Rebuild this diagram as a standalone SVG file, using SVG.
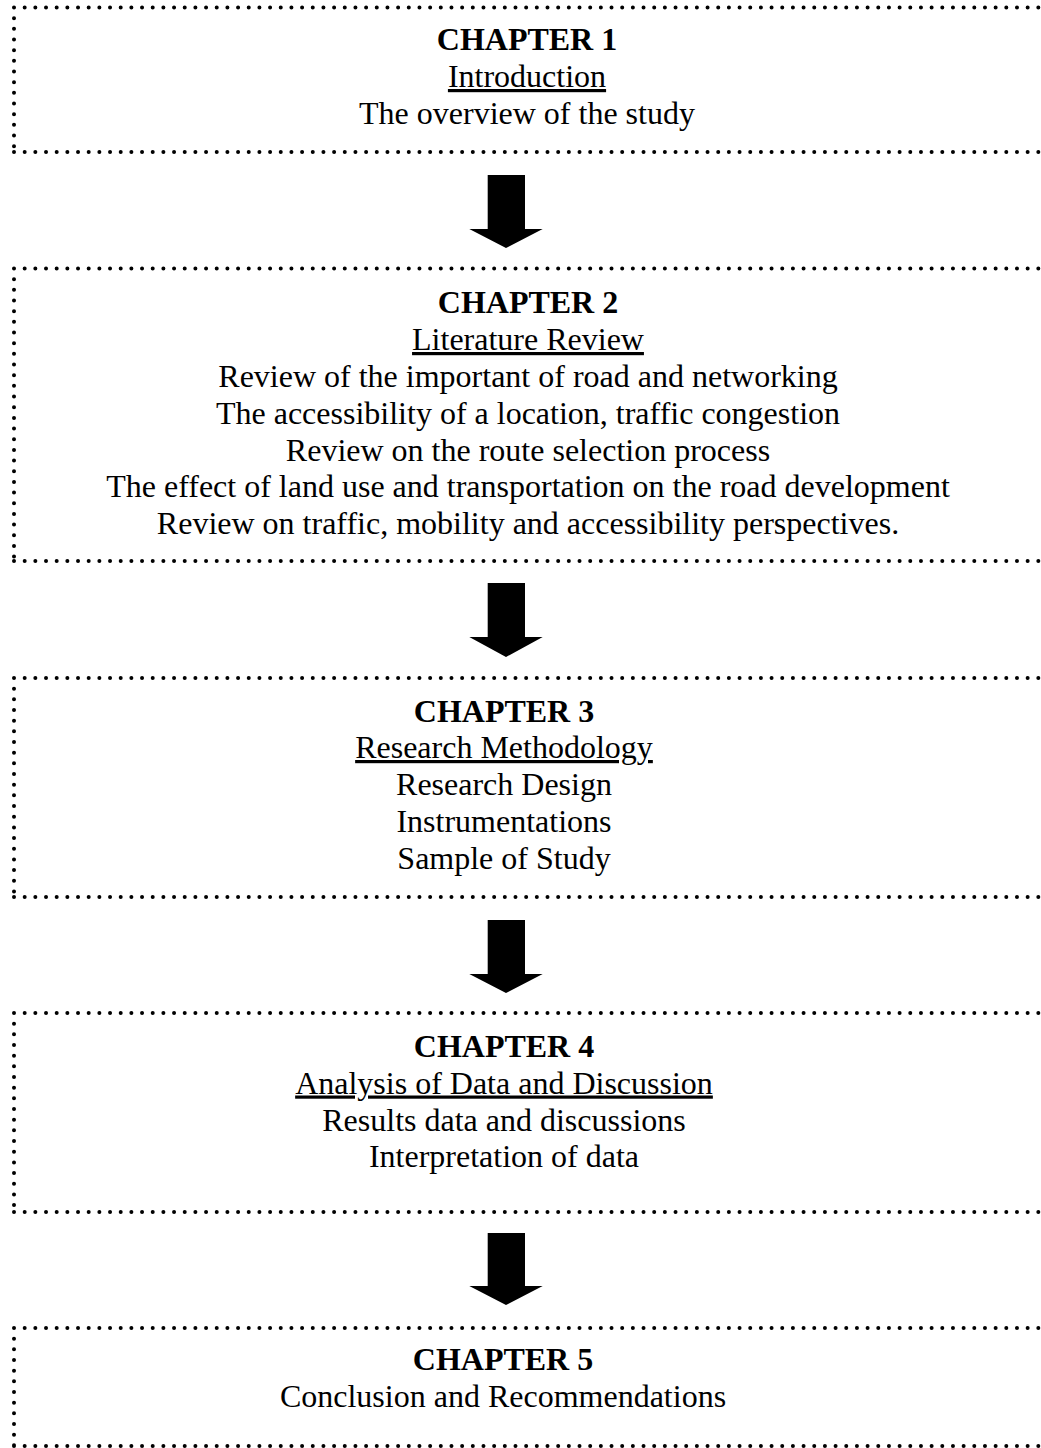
<svg xmlns="http://www.w3.org/2000/svg" width="1041" height="1448" viewBox="0 0 1041 1448">
<style>
.b{fill:none;stroke:#000;stroke-width:4;stroke-linecap:round;stroke-dasharray:0 10.67}
.t{font-family:"Liberation Serif","Times New Roman",serif;font-size:32px;fill:#000;text-anchor:middle}
.h{font-weight:bold}
.u{text-decoration:underline}
.a{fill:#000}
</style>
<rect width="1041" height="1448" fill="#fff"/>
<g id="chapter1">
<path class="b" d="M14,7.5 H1050 M14,7.5 V152 M14,152 H1050"/>
<text class="t h" x="527" y="50">CHAPTER 1</text>
<text class="t u" x="527" y="87">Introduction</text>
<text class="t" x="527" y="124">The overview of the study</text>
</g>
<g id="chapter2">
<path class="b" d="M14,268.5 H1050 M14,268.5 V561 M14,561 H1050"/>
<text class="t h" x="528" y="313">CHAPTER 2</text>
<text class="t u" x="528" y="350">Literature Review</text>
<text class="t" x="528" y="387">Review of the important of road and networking</text>
<text class="t" x="528" y="424">The accessibility of a location, traffic congestion</text>
<text class="t" x="528" y="460.5">Review on the route selection process</text>
<text class="t" x="528" y="497">The effect of land use and transportation on the road development</text>
<text class="t" x="528" y="534">Review on traffic, mobility and accessibility perspectives.</text>
</g>
<g id="chapter3">
<path class="b" d="M14,678 H1050 M14,678 V897 M14,897 H1050"/>
<text class="t h" x="504" y="721.5">CHAPTER 3</text>
<text class="t u" x="504" y="758">Research Methodology</text>
<text class="t" x="504" y="795">Research Design</text>
<text class="t" x="504" y="832">Instrumentations</text>
<text class="t" x="504" y="868.5">Sample of Study</text>
</g>
<g id="chapter4">
<path class="b" d="M14,1013 H1050 M14,1013 V1212 M14,1212 H1050"/>
<text class="t h" x="504" y="1057">CHAPTER 4</text>
<text class="t u" x="504" y="1093.5">Analysis of Data and Discussion</text>
<text class="t" x="504" y="1130.5">Results data and discussions</text>
<text class="t" x="504" y="1167">Interpretation of data</text>
</g>
<g id="chapter5">
<path class="b" d="M14,1328 H1050 M14,1328 V1446 M14,1446 H1050"/>
<text class="t h" x="503" y="1370">CHAPTER 5</text>
<text class="t" x="503" y="1407">Conclusion and Recommendations</text>
</g>
<g id="connectors">
<path class="a" d="M487.7,175 H525 V229 H542.7 L506,248 L469.3,229 H487.7 Z"/>
<path class="a" d="M487.7,583 H525 V637 H542.7 L506,657 L469.3,637 H487.7 Z"/>
<path class="a" d="M487.7,920 H525 V974 H542.7 L506,993 L469.3,974 H487.7 Z"/>
<path class="a" d="M487.7,1233 H525 V1286 H542.7 L506,1305 L469.3,1286 H487.7 Z"/>
</g>
</svg>
